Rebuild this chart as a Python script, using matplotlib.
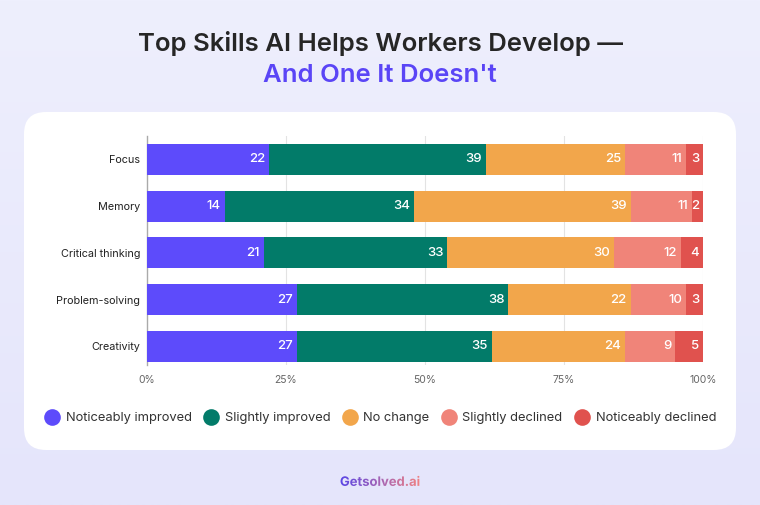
import matplotlib
matplotlib.use("Agg")
import matplotlib.pyplot as plt
import numpy as np
from matplotlib.patches import FancyBboxPatch
from matplotlib.lines import Line2D
from matplotlib.textpath import TextPath
from matplotlib.font_manager import FontProperties
from matplotlib.patches import PathPatch
from matplotlib.transforms import Affine2D

skills = ["Focus", "Memory", "Critical thinking", "Problem-solving", "Creativity"]
series = ["Noticeably improved", "Slightly improved", "No change",
          "Slightly declined", "Noticeably declined"]
noticeably_improved = [22, 14, 21, 27, 27]
slightly_improved = [39, 34, 33, 38, 35]
no_change = [25, 39, 30, 22, 24]
slightly_declined = [11, 11, 12, 10, 9]
noticeably_declined = [3, 2, 4, 3, 5]
ticks = [0, 25, 50, 75, 100]
tick_labels = ["0%", "25%", "50%", "75%", "100%"]

colors = ["#5D4BFB", "#027B69", "#F2A64B", "#F08479", "#E0524E"]
font = "Inter"

W, H = 760, 505
fig = plt.figure(figsize=(W / 100, H / 100), dpi=100)

# background + card, drawn in pixel coords
bg = fig.add_axes([0, 0, 1, 1], zorder=0)
bg.set_xlim(0, W)
bg.set_ylim(H, 0)
bg.axis("off")
grad = np.linspace(0, 1, 256).reshape(-1, 1)
top = np.array([238, 239, 253]) / 255
bot = np.array([229, 229, 251]) / 255
img = top + (bot - top) * grad[:, :, None]
bg.imshow(img, extent=[0, W, H, 0], aspect="auto")
bg.add_patch(FancyBboxPatch((26, 114), 708, 336,
                            boxstyle="round,pad=0,rounding_size=22",
                            fc="#dcdcf5", ec="none", alpha=0.5))
bg.add_patch(FancyBboxPatch((24, 112), 712, 338,
                            boxstyle="round,pad=0,rounding_size=22",
                            fc="white", ec="none"))

bg.text(W / 2, 43, "Top Skills AI Helps Workers Develop \u2014", ha="center", va="center",
        fontsize=18.5, fontweight="semibold", color="#262626", family=font)
bg.text(W / 2, 75, "And One It Doesn't", ha="center", va="center",
        fontsize=18.5, fontweight="semibold", color="#5A45F6", family=font)

# watermark with a gradient fill
fp = FontProperties(family=font, weight="bold")
tp = TextPath((0, 0), "Getsolved.ai", size=13, prop=fp)
ext = tp.get_extents()
tw, th = ext.width, ext.height
x0, y0 = W / 2 - tw / 2, 486
trans = Affine2D().scale(1, -1).translate(x0 - ext.x0, y0 + ext.y0) + bg.transData
patch = PathPatch(tp, fc="none", ec="none", transform=trans)
bg.add_patch(patch)
wm_grad = np.linspace(0, 1, 256).reshape(1, -1)
c1 = np.array([90, 70, 230]) / 255
c2 = np.array([242, 130, 130]) / 255
wm = c1 + (c2 - c1) * wm_grad[:, :, None]
im = bg.imshow(wm, extent=[x0 - 1, x0 + tw + 1, y0 + 2, y0 - th - 2], aspect="auto")
im.set_clip_path(patch)

# chart
ax = fig.add_axes([147 / W, 1 - 365 / H, (703 - 147) / W, (365 - 136) / H], zorder=2)
ax.set_facecolor("none")
data = [noticeably_improved, slightly_improved, no_change, slightly_declined, noticeably_declined]
y = np.arange(len(skills))
left = np.zeros(len(skills))
for vals, col, name in zip(data, colors, series):
    vals = np.array(vals)
    ax.barh(y, vals, left=left, height=0.66, color=col, label=name, zorder=3)
    for yi, l, v in zip(y, left, vals):
        ax.text(l + v - 0.7, yi, str(v), ha="right", va="center", color="white",
                fontsize=9.5, family=font, fontweight="medium", zorder=4)
    left += vals

ax.set_xlim(0, 100)
ax.set_ylim(4.4, -0.5)
ax.set_yticks(y)
ax.set_yticklabels(skills, family=font, fontsize=7.8, color="#222222")
ax.set_xticks(ticks)
ax.set_xticklabels(tick_labels, family=font, fontsize=7.5, color="#666666")
ax.tick_params(length=0)
ax.tick_params(axis="y", pad=5)
ax.tick_params(axis="x", pad=7)
for s in ["top", "right", "bottom"]:
    ax.spines[s].set_visible(False)
ax.spines["left"].set_color("#aaaaaa")
ax.spines["left"].set_linewidth(1)
for t in ticks[1:]:
    ax.axvline(t, color="#e3e3e3", lw=0.8, zorder=1)

handles = [Line2D([], [], marker="o", ls="none", markersize=12, markerfacecolor=c,
                  markeredgecolor="none") for c in colors]
leg = fig.legend(handles, series, loc="center", bbox_to_anchor=(0.5, 1 - 418 / H), ncol=5,
                 frameon=False, handletextpad=0.4, columnspacing=0.85, handlelength=1.3,
                 prop=FontProperties(family=font, size=9.3))
for t in leg.get_texts():
    t.set_color("#333333")

fig.savefig("out.png", dpi=100)
